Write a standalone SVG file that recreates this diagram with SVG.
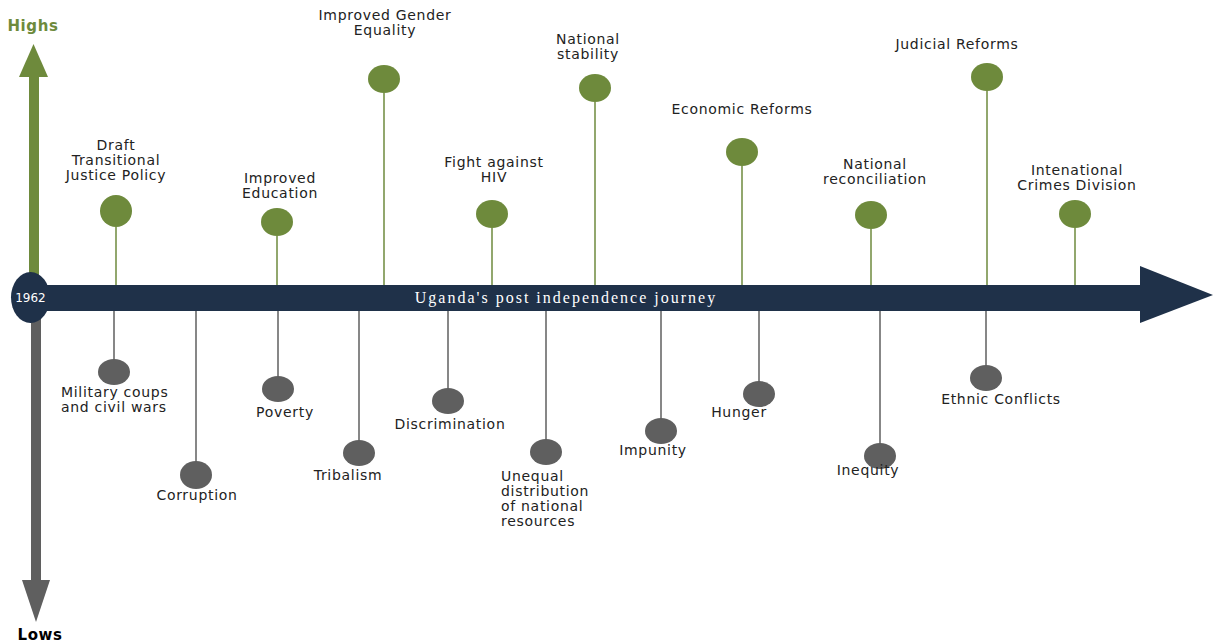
<svg xmlns="http://www.w3.org/2000/svg" width="1214" height="642" viewBox="0 0 1214 642">
<style>
.t{font-family:"DejaVu Sans",sans-serif;font-size:14px;letter-spacing:0.7px;fill:#222;text-anchor:middle}
.ts{text-anchor:start}
.g{fill:#6e8a3c}
.d{fill:#5f5f5f}
.sg{stroke:#6e8a3c;stroke-width:1.5}
.sd{stroke:#5f5f5f;stroke-width:1.5}
</style>
<rect width="1214" height="642" fill="#fff"/>
<g id="axis">
<rect x="29" y="76" width="10" height="200" class="g"/>
<polygon points="33.5,44 19,77 48,77" class="g"/>
<rect x="31" y="318" width="10" height="264" class="d"/>
<polygon points="22,580 50,580 36,622" class="d"/>
<text x="33" y="31" font-family="DejaVu Sans,sans-serif" font-size="15" font-weight="bold" letter-spacing="0.6" fill="#6e8a3c" text-anchor="middle">Highs</text>
<text x="40" y="640" font-family="DejaVu Sans,sans-serif" font-size="15" font-weight="bold" letter-spacing="0.6" fill="#000" text-anchor="middle">Lows</text>
</g>
<g id="connectors">
<line x1="116" y1="227" x2="116" y2="286" class="sg"/>
<line x1="277" y1="236" x2="277" y2="286" class="sg"/>
<line x1="384" y1="93" x2="384" y2="286" class="sg"/>
<line x1="492" y1="228" x2="492" y2="286" class="sg"/>
<line x1="595" y1="102" x2="595" y2="286" class="sg"/>
<line x1="742" y1="166" x2="742" y2="286" class="sg"/>
<line x1="871" y1="229" x2="871" y2="286" class="sg"/>
<line x1="987" y1="91" x2="987" y2="286" class="sg"/>
<line x1="1075" y1="228" x2="1075" y2="286" class="sg"/>
<line x1="114" y1="311" x2="114" y2="360" class="sd"/>
<line x1="196" y1="311" x2="196" y2="462" class="sd"/>
<line x1="278" y1="311" x2="278" y2="377" class="sd"/>
<line x1="359" y1="311" x2="359" y2="441" class="sd"/>
<line x1="448" y1="311" x2="448" y2="389" class="sd"/>
<line x1="546" y1="311" x2="546" y2="440" class="sd"/>
<line x1="661" y1="311" x2="661" y2="419" class="sd"/>
<line x1="759" y1="311" x2="759" y2="382" class="sd"/>
<line x1="880" y1="311" x2="880" y2="444" class="sd"/>
<line x1="986" y1="311" x2="986" y2="366" class="sd"/>
</g>
<g id="timeline">
<rect x="40" y="285" width="1102" height="26" fill="#1f3149"/>
<polygon points="1140,266 1213,295 1140,323" fill="#1f3149"/>
<ellipse cx="30.5" cy="297.5" rx="19.5" ry="25.5" fill="#1f3149"/>
<text x="30.5" y="302" font-family="DejaVu Sans,sans-serif" font-size="12" fill="#fff" text-anchor="middle">1962</text>
<text x="566" y="303" font-family="Liberation Serif,serif" font-size="16" fill="#fff" text-anchor="middle" letter-spacing="2">Uganda's post independence journey</text>
</g>
<g id="n-draft"><circle cx="116" cy="211" r="16" class="g"/><text class="t" x="116" y="150">Draft</text><text class="t" x="116" y="165">Transitional</text><text class="t" x="116" y="180">Justice Policy</text></g>
<g id="n-education"><ellipse cx="277" cy="222" rx="16" ry="14" class="g"/><text class="t" x="280" y="183">Improved</text><text class="t" x="280" y="198">Education</text></g>
<g id="n-gender"><ellipse cx="384" cy="79" rx="16" ry="14" class="g"/><text class="t" x="385" y="20">Improved Gender</text><text class="t" x="385" y="35">Equality</text></g>
<g id="n-hiv"><ellipse cx="492" cy="214" rx="16" ry="14" class="g"/><text class="t" x="494" y="167">Fight against</text><text class="t" x="494" y="182">HIV</text></g>
<g id="n-stability"><ellipse cx="595" cy="88" rx="16" ry="14" class="g"/><text class="t" x="588" y="44">National</text><text class="t" x="588" y="59">stability</text></g>
<g id="n-economic"><ellipse cx="742" cy="152" rx="16" ry="14" class="g"/><text class="t" x="742" y="114">Economic Reforms</text></g>
<g id="n-reconciliation"><ellipse cx="871" cy="215" rx="16" ry="14" class="g"/><text class="t" x="875" y="169">National</text><text class="t" x="875" y="184">reconciliation</text></g>
<g id="n-judicial"><ellipse cx="987" cy="77" rx="16" ry="14" class="g"/><text class="t" x="957" y="49">Judicial Reforms</text></g>
<g id="n-icd"><ellipse cx="1075" cy="214" rx="16" ry="14" class="g"/><text class="t" x="1077" y="175">Intenational</text><text class="t" x="1077" y="190">Crimes Division</text></g>
<g id="n-military"><ellipse cx="114" cy="372" rx="16" ry="13" class="d"/><text class="t ts" x="61" y="397">Military coups</text><text class="t ts" x="61" y="412">and civil wars</text></g>
<g id="n-corruption"><ellipse cx="196" cy="475" rx="16" ry="14" class="d"/><text class="t" x="197" y="500">Corruption</text></g>
<g id="n-poverty"><ellipse cx="278" cy="389" rx="16" ry="13" class="d"/><text class="t" x="285" y="417">Poverty</text></g>
<g id="n-tribalism"><ellipse cx="359" cy="453" rx="16" ry="13" class="d"/><text class="t" x="348" y="480">Tribalism</text></g>
<g id="n-discrimination"><ellipse cx="448" cy="401" rx="16" ry="13" class="d"/><text class="t" x="450" y="429">Discrimination</text></g>
<g id="n-unequal"><ellipse cx="546" cy="452" rx="16" ry="13" class="d"/><text class="t ts" x="501" y="481">Unequal</text><text class="t ts" x="501" y="496">distribution</text><text class="t ts" x="501" y="511">of national</text><text class="t ts" x="501" y="526">resources</text></g>
<g id="n-impunity"><ellipse cx="661" cy="431" rx="16" ry="13" class="d"/><text class="t" x="653" y="455">Impunity</text></g>
<g id="n-hunger"><ellipse cx="759" cy="394" rx="16" ry="13" class="d"/><text class="t" x="739" y="417">Hunger</text></g>
<g id="n-inequity"><ellipse cx="880" cy="456" rx="16" ry="13" class="d"/><text class="t" x="868" y="475">Inequity</text></g>
<g id="n-ethnic"><ellipse cx="986" cy="378" rx="16" ry="13" class="d"/><text class="t" x="1001" y="404">Ethnic Conflicts</text></g>
</svg>
